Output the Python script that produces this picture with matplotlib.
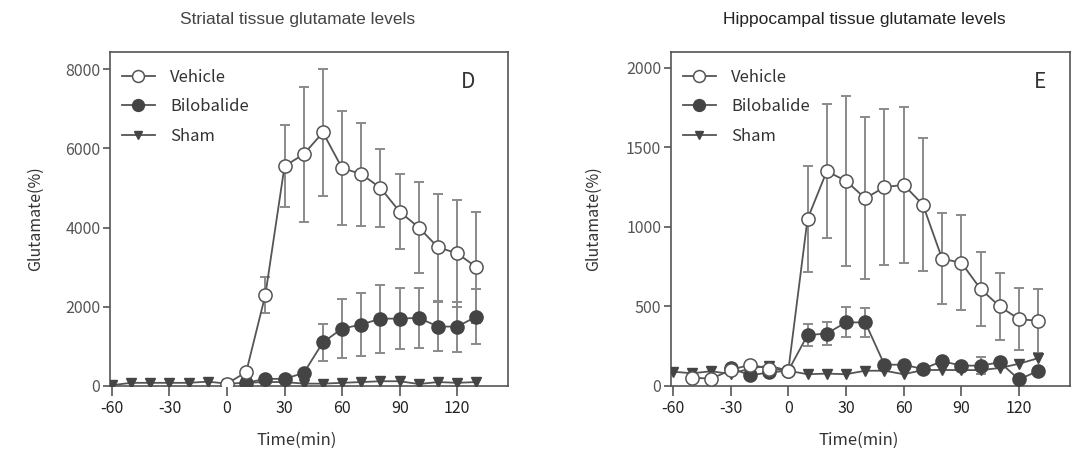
import matplotlib
matplotlib.use('Agg')
import matplotlib.pyplot as plt
import numpy as np

plt.rcParams['font.family'] = ['Noto Sans CJK SC', 'DejaVu Sans']
plt.rcParams['axes.unicode_minus'] = False

# Striatal (panel D)
t_sham_d = [-60, -50, -40, -30, -20, -10, 0, 10, 20, 30, 40, 50, 60, 70, 80, 90, 100, 110, 120, 130]
sham_d = [20, 80, 80, 80, 80, 110, 60, 80, 100, 100, 60, 60, 80, 100, 120, 120, 50, 100, 80, 100]
t_veh_d = [0, 10, 20, 30, 40, 50, 60, 70, 80, 90, 100, 110, 120, 130]
veh_d = [60, 350, 2300, 5550, 5850, 6400, 5500, 5350, 5000, 4400, 4000, 3500, 3350, 3000]
veh_d_err = [0, 0, 460, 1030, 1700, 1600, 1430, 1300, 980, 950, 1150, 1350, 1350, 1400]
t_bil_d = [10, 20, 30, 40, 50, 60, 70, 80, 90, 100, 110, 120, 130]
bil_d = [80, 180, 180, 330, 1100, 1450, 1550, 1700, 1700, 1720, 1500, 1500, 1750]
bil_d_err = [0, 0, 0, 0, 460, 740, 800, 860, 770, 760, 615, 630, 690]

# Hippocampal (panel E)
t_sham_e = [-60, -50, -40, -30, -20, -10, 0, 10, 20, 30, 40, 50, 60, 70, 80, 90, 100, 110, 120, 130]
sham_e = [90, 80, 93, 75, 110, 128, 96, 74, 78, 74, 96, 96, 74, 100, 101, 100, 100, 113, 140, 175]
t_veh_e = [-50, -40, -30, -20, -10, 0, 10, 20, 30, 40, 50, 60, 70, 80, 90, 100, 110, 120, 130]
veh_e = [52, 46, 100, 134, 110, 96, 1050, 1350, 1290, 1180, 1250, 1265, 1140, 800, 775, 610, 500, 420, 410]
veh_e_err = [0, 0, 0, 0, 0, 0, 335, 420, 535, 510, 490, 490, 420, 285, 300, 235, 210, 195, 200]
t_bil_e = [-30, -20, -10, 0, 10, 20, 30, 40, 50, 60, 70, 80, 90, 100, 110, 120, 130]
bil_e = [115, 67, 85, 96, 320, 330, 400, 400, 134, 134, 107, 156, 128, 128, 149, 41, 96]
bil_e_err = [0, 0, 0, 0, 70, 70, 95, 90, 0, 0, 0, 0, 0, 55, 0, 0, 0]

xticks = [-60, -30, 0, 30, 60, 90, 120]

LINE = '#555555'
DARK = '#444444'
ERR = '#8a8a8a'

fig = plt.figure(figsize=(10.77, 4.49), dpi=100)


def panel(ax, ts, sham, tv, veh, veh_err, tb, bil, bil_err, ymax, yticks, letter, lx):
    ax.errorbar(tv, veh, yerr=veh_err, fmt='none', ecolor=ERR, elinewidth=1.4,
                capsize=3.5, capthick=1.4, zorder=1)
    ax.errorbar(tb, bil, yerr=bil_err, fmt='none', ecolor=ERR, elinewidth=1.4,
                capsize=3.5, capthick=1.4, zorder=1)
    ax.plot(ts, sham, color=LINE, lw=1.3, marker='v', ms=7, mfc=DARK, mec=DARK,
            label='Sham', zorder=3)
    ax.plot(tb, bil, color=LINE, lw=1.3, marker='o', ms=9.5, mfc=DARK, mec=DARK,
            label='Bilobalide', zorder=4)
    ax.plot(tv, veh, color=LINE, lw=1.3, marker='o', ms=9.5, mfc='white', mec=LINE,
            mew=1.1, label='Vehicle', zorder=5)
    ax.set_xlim(-61, 146.5)
    ax.set_ylim(0, ymax)
    ax.set_xticks(xticks)
    ax.set_yticks(yticks)
    ax.tick_params(axis='x', length=7, width=1.2, color=LINE, labelsize=11.5,
                   labelcolor='#222222', pad=3)
    ax.tick_params(axis='y', length=5, width=1.2, color=LINE, labelsize=11.5,
                   labelcolor='#555555', pad=2)
    for s in ax.spines.values():
        s.set_color('#555555')
        s.set_linewidth(1.2)
    ax.set_xlabel('Time(min)', fontsize=12, color='#333333')
    ax.set_ylabel('Glutamate(%)', fontsize=11.5, color='#333333')
    ax.xaxis.label.set_va('center')
    ax.yaxis.label.set_va('center')
    h, l = ax.get_legend_handles_labels()
    ax.legend(h[::-1], l[::-1], loc='upper left', frameon=False, fontsize=12,
              handlelength=2.0, labelspacing=0.75, handletextpad=0.9, markerscale=0.9,
              borderaxespad=0.3, bbox_to_anchor=(0.0, 0.985), labelcolor='#333333')
    ax.text(lx, 0.91, letter, transform=ax.transAxes, fontsize=15,
            color='#333333', ha='center', va='center')


ax1 = fig.add_axes([110 / 1077, 63 / 449, 398 / 1077, 334 / 449])
panel(ax1, t_sham_d, sham_d, t_veh_d, veh_d, veh_d_err, t_bil_d, bil_d, bil_d_err,
      8430, [0, 2000, 4000, 6000, 8000], 'D', 0.9)
ax1.xaxis.set_label_coords(0.47, -0.162)
ax1.yaxis.set_label_coords(-0.188, 0.5)

ax2 = fig.add_axes([671 / 1077, 63 / 449, 399 / 1077, 334 / 449])
panel(ax2, t_sham_e, sham_e, t_veh_e, veh_e, veh_e_err, t_bil_e, bil_e, bil_e_err,
      2100, [0, 500, 1000, 1500, 2000], 'E', 0.925)
ax2.xaxis.set_label_coords(0.47, -0.162)
ax2.yaxis.set_label_coords(-0.195, 0.5)

fig.text(298 / 1077, 1 - 19.5 / 449, 'Striatal tissue glutamate levels', fontsize=12.5,
         family=['Liberation Sans'], color='#444444', ha='center', va='center')
fig.text(864 / 1077, 1 - 19.5 / 449, 'Hippocampal tissue glutamate levels', fontsize=12.5,
         family=['Liberation Sans'], color='#222222', ha='center', va='center')

fig.savefig('out.png', dpi=100, facecolor='white')
